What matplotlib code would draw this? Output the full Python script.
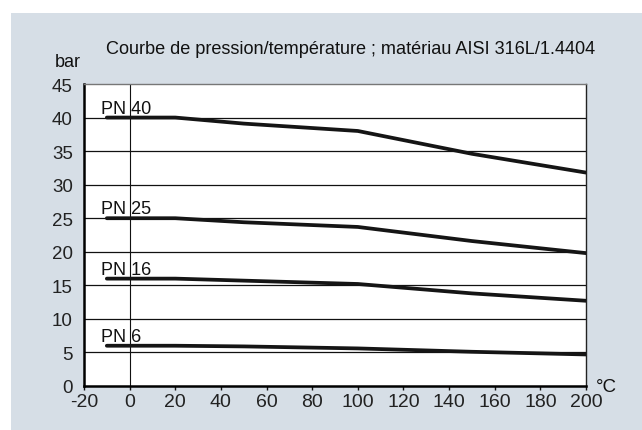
import matplotlib.pyplot as plt
from matplotlib.patches import Rectangle

# temperature points (°C)
temps = [-10, 20, 50, 100, 150, 200]

# pressure ratings (bar) per nominal pressure
pn40 = [40, 40, 39.1, 38.0, 34.6, 31.8]
pn25 = [25, 25, 24.4, 23.7, 21.6, 19.8]
pn16 = [16, 16, 15.7, 15.2, 13.8, 12.7]
pn6 = [6, 6, 5.9, 5.6, 5.1, 4.7]

series = [('PN 40', pn40), ('PN 25', pn25), ('PN 16', pn16), ('PN 6', pn6)]

x_ticks = [-20, 0, 20, 40, 60, 80, 100, 120, 140, 160, 180, 200]
y_ticks = [0, 5, 10, 15, 20, 25, 30, 35, 40, 45]

title = 'Courbe de pression/température ; matériau AISI 316L/1.4404'

plt.rcParams['font.family'] = ['Liberation Sans', 'DejaVu Sans']
plt.rcParams['axes.unicode_minus'] = False

fig = plt.figure(figsize=(6.42, 4.31), dpi=100)
fig.patch.set_facecolor('white')
bg = Rectangle((11 / 642, 0), 1, (431 - 14) / 431, transform=fig.transFigure,
               facecolor='#d6dee6', edgecolor='none', zorder=-10)
fig.patches.append(bg)

ax = fig.add_axes([84 / 642, 44 / 431, (586 - 84) / 642, (387 - 85) / 431])
ax.set_zorder(1)
ax.set_facecolor('white')

for y in y_ticks[1:-1]:
    ax.axhline(y, color='#111111', lw=0.9, zorder=1)
ax.axvline(0, color='#111111', lw=0.8, zorder=1)

for name, vals in series:
    ax.plot(temps, vals, color='#151515', lw=2.7, solid_capstyle='round', zorder=3)
    ax.text(-12.5, vals[0] + 0.75, name, fontsize=13, ha='left', va='baseline',
            color='#111111', zorder=4)

ax.set_xlim(-20, 200)
ax.set_ylim(0, 45)
ax.set_xticks(x_ticks)
ax.set_yticks(y_ticks)
ax.tick_params(axis='x', direction='out', length=3, width=1, labelsize=14, pad=2,
               colors='#111111')
ax.tick_params(axis='y', length=0, labelsize=13.5, pad=8, colors='#111111')
for lab in ax.get_xticklabels() + ax.get_yticklabels():
    lab.set_color('#222222')

ax.spines['left'].set_linewidth(1.8)
ax.spines['bottom'].set_linewidth(1.8)
ax.spines['top'].set_linewidth(1.0)
ax.spines['top'].set_color('#777777')
ax.spines['right'].set_linewidth(1.0)
ax.spines['right'].set_color('#222222')

fig.text(351 / 642, 1 - 54 / 431, title, fontsize=13.1, ha='center', va='baseline',
         color='#111111')
fig.text(68 / 642, 1 - 67 / 431, 'bar', fontsize=13, ha='center', va='baseline',
         color='#111111')
fig.text(596 / 642, 1 - 392 / 431, '°C', fontsize=13.5, ha='left', va='baseline',
         color='#111111')

fig.savefig('out.png', dpi=100, facecolor=fig.get_facecolor())
